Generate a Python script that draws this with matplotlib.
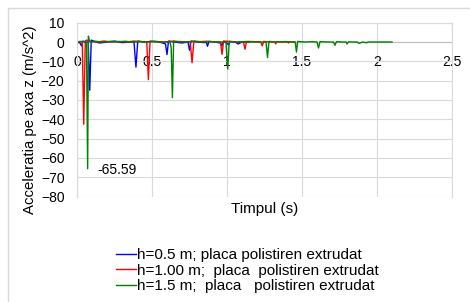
import matplotlib
matplotlib.use("Agg")
import matplotlib.pyplot as plt
from matplotlib.patches import Rectangle

plt.rcParams['font.family'] = ['Liberation Sans', 'DejaVu Sans']

# ---- data (time in s, acceleration in m/s^2) ----
t_blue = [0.000, 0.020, 0.030, 0.040, 0.060, 0.075, 0.085, 0.095, 0.110, 0.150,
          0.200, 0.250, 0.300, 0.350, 0.380, 0.393, 0.405, 0.450, 0.500, 0.550,
          0.590, 0.600, 0.610, 0.650, 0.700, 0.740, 0.750, 0.760, 0.800, 0.850,
          0.862, 0.870, 0.880, 0.920, 0.955, 0.965, 0.975, 1.000, 1.010, 1.020,
          1.050, 1.065, 1.075, 1.100, 1.150]
a_blue = [0.0, -0.5, -2.0, 0.5, 0.0, 0.0, -25.0, 1.0, 0.5, -0.5,
          0.0, 0.5, -0.3, 0.0, 0.0, -13.0, 0.5, 0.0, 0.3, 0.0,
          -1.0, -6.5, 0.5, 0.0, -0.5, 0.0, -4.3, 0.5, 0.0, -0.3,
          0.0, -2.2, 0.3, 0.0, -0.5, -2.0, 0.3, -0.5, -1.5, 0.2,
          0.0, -0.5, -1.0, 0.0, 0.0]

t_red = [0.000, 0.020, 0.035, 0.045, 0.055, 0.065, 0.090, 0.130, 0.180, 0.230,
         0.280, 0.330, 0.380, 0.420, 0.465, 0.476, 0.487, 0.520, 0.580, 0.640,
         0.700, 0.755, 0.767, 0.779, 0.820, 0.870, 0.920, 0.957, 0.967, 0.977,
         1.020, 1.070, 1.110, 1.120, 1.130, 1.180, 1.225, 1.235, 1.245, 1.290,
         1.318, 1.325, 1.332, 1.370, 1.405, 1.410, 1.415, 1.450]
a_red = [0.0, 0.3, 0.0, -42.6, 0.5, 1.0, 0.3, 0.0, 0.5, 0.0,
         0.3, 0.0, 0.5, 0.2, 0.0, -19.5, 0.5, 0.3, 0.0, 0.4,
         0.2, 0.0, -10.7, 0.5, 0.2, 0.4, 0.0, 0.0, -6.4, 0.5,
         0.3, 0.0, 0.0, -3.8, 0.3, 0.2, 0.0, -2.0, 0.3, 0.0,
         0.0, -1.0, 0.2, 0.0, 0.0, -0.5, 0.1, 0.0]

t_green = [0.000, 0.030, 0.055, 0.063, 0.071, 0.076, 0.082, 0.090, 0.120, 0.170,
           0.220, 0.270, 0.320, 0.370, 0.420, 0.470, 0.520, 0.570, 0.620, 0.628,
           0.636, 0.644, 0.660, 0.720, 0.780, 0.840, 0.900, 0.950, 0.993, 1.005,
           1.015, 1.060, 1.120, 1.180, 1.230, 1.260, 1.270, 1.280, 1.330, 1.390,
           1.440, 1.455, 1.463, 1.471, 1.520, 1.570, 1.600, 1.610, 1.620, 1.670,
           1.710, 1.720, 1.730, 1.770, 1.795, 1.800, 1.810, 1.845, 1.870, 1.880,
           1.905, 1.930, 1.940, 1.980, 2.040, 2.100]
a_green = [0.0, 0.3, 0.0, -1.0, -65.59, 3.0, 0.5, 0.0, 0.4, 0.0,
           0.3, 0.0, 0.4, 0.0, 0.2, 0.0, 0.3, 0.0, 0.0, -3.0,
           -28.8, 0.5, 0.2, 0.0, 0.3, 0.0, 0.2, 0.0, 0.0, -14.0,
           0.3, 0.0, 0.2, 0.0, 0.0, 0.0, -8.0, 0.3, 0.0, 0.2,
           0.0, 0.0, -5.2, 0.3, 0.0, 0.2, 0.0, -3.1, 0.2, 0.0,
           0.0, -1.7, 0.2, 0.0, 0.0, -1.0, 0.1, 0.0, 0.0, -0.7,
           0.0, -0.4, 0.0, 0.0, 0.0, 0.0]

labels = ["h=0.5 m; placa polistiren extrudat",
          "h=1.00 m;  placa  polistiren extrudat",
          "h=1.5 m;  placa   polistiren extrudat"]
colors = ["#0000ff", "#ff0000", "#008000"]

x_ticks = [0, 0.5, 1, 1.5, 2, 2.5]
x_tick_labels = ["0", "0.5", "1", "1.5", "2", "2.5"]
y_ticks = [10, 0, -10, -20, -30, -40, -50, -60, -70, -80]

min_value = -65.59
min_time = 0.071

# ---- figure ----
fig = plt.figure(figsize=(4.70, 3.02), dpi=100)
fig.patches.append(Rectangle((8 / 470, -0.5), 2, 1.5 - 8 / 302, transform=fig.transFigure,
                             fill=False, edgecolor="#d9d9d9", linewidth=1.0))

ax = fig.add_axes([77 / 470, 1 - 196.5 / 302, 375 / 470, 173.8 / 302])

series = [(t_blue, a_blue), (t_red, a_red), (t_green, a_green)]
for (t, a), c, lab in zip(series, colors, labels):
    ax.plot(t, a, color=c, linewidth=1.0, label=lab)

ax.set_xlim(0, 2.5)
ax.set_ylim(-80, 10)
ax.set_xticks(x_ticks)
ax.set_xticklabels(x_tick_labels)
ax.set_yticks(y_ticks)
ax.grid(True, color="#d9d9d9", linewidth=0.8)
ax.set_axisbelow(True)

ax.spines['bottom'].set_position(('data', 0))
ax.spines['bottom'].set_color("#bfbfbf")
ax.spines['bottom'].set_zorder(1)
for s in ['left', 'right', 'top']:
    ax.spines[s].set_color("#d9d9d9")
    ax.spines[s].set_linewidth(0.8)
ax.tick_params(axis='both', length=0, labelsize=10, colors="#000000")
ax.tick_params(axis='x', pad=9)
ax.tick_params(axis='y', pad=9)

ax.set_xlabel("Timpul (s)", fontsize=11)
ax.xaxis.set_label_coords(0.501, -0.072)
ax.xaxis.label.set_va('center')
ax.set_ylabel("Acceleratia pe axa z (m/s^2)", fontsize=10.8)
ax.yaxis.set_label_coords(-0.125, 0.44)
ax.yaxis.label.set_va('center')

ax.annotate(f"{min_value:.2f}", xy=(min_time, min_value), xytext=(10, -1),
            textcoords='offset pixels', ha='left', va='center', fontsize=10)

handles, labs = ax.get_legend_handles_labels()
fig.legend(handles, labs, loc='upper left', bbox_to_anchor=(116 / 470, 1 - 248 / 302),
           frameon=False, fontsize=11, handlelength=1.3, handletextpad=0.1,
           labelspacing=0.1, borderpad=0, borderaxespad=0)

fig.savefig("out.png", dpi=100)
